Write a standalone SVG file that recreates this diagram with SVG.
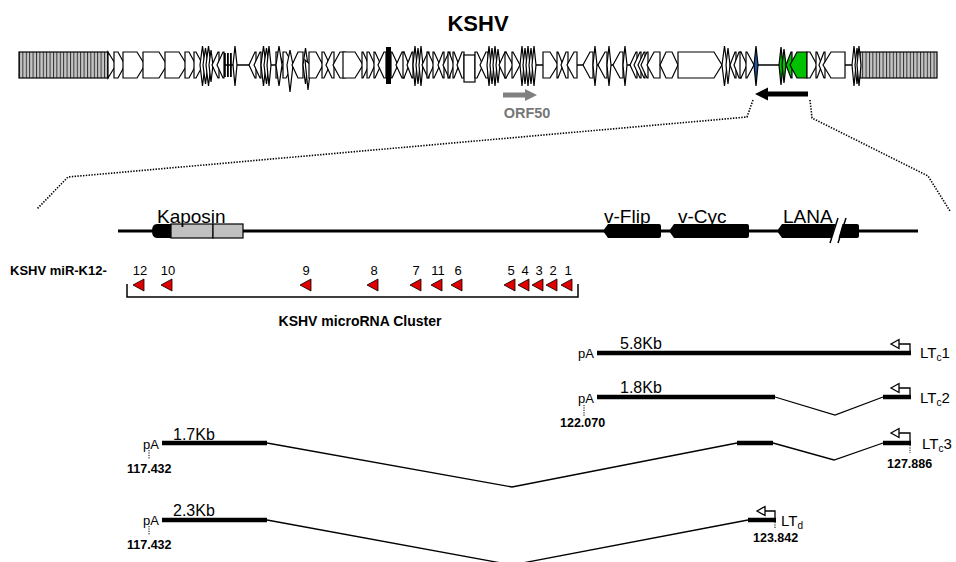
<svg xmlns="http://www.w3.org/2000/svg" width="956" height="562" viewBox="0 0 956 562">
<style>
text{font-family:"Liberation Sans",Arial,sans-serif;fill:#000}
.g{fill:#fff;stroke:#000;stroke-width:1.2;stroke-linejoin:miter}
.hb{fill:url(#hatch);stroke:#000;stroke-width:1.2}
.dot{fill:none;stroke:#000;stroke-width:1.6;stroke-dasharray:1.4 1.4}
.thick{stroke:#000;stroke-width:4.5;fill:none}
.thin{stroke:#000;stroke-width:1.3;fill:none}
.tick{stroke:#000;stroke-width:1;stroke-dasharray:1.2 1.2}
.mir{fill:#e00000;stroke:#000;stroke-width:0.8}
.prom{fill:#fff;stroke:#000;stroke-width:1.3}
.pa{font-size:13px}
.kb{font-size:16px}
.coord{font-size:12.5px;font-weight:bold}
.lt{font-size:15px}
.num{font-size:13px}
.gene{font-size:19px}
</style>
<defs>
<pattern id="hatch" patternUnits="userSpaceOnUse" x="19" y="0" width="3.4" height="10">
<rect width="3.4" height="10" fill="#c4c4c4"/>
<line x1="0.5" y1="0" x2="0.5" y2="10" stroke="#222" stroke-width="0.9"/>
</pattern>
</defs>
<rect width="956" height="562" fill="#fff"/>

<g id="title"><text x="478" y="31" text-anchor="middle" font-size="22" font-weight="bold">KSHV</text></g>

<g id="genome">
<line x1="108" y1="65" x2="860" y2="65" stroke="#000" stroke-width="1.6"/>
<rect class="hb" x="19" y="52" width="89" height="26"/>
<rect class="hb" x="860" y="52" width="77" height="26"/>
<polygon class="g" points="108,52 116,65 108,78"/>
<polygon class="g" points="114,52 118,52 125,65 118,78 114,78"/>
<polygon class="g" points="123,52 137,52 145,65 137,78 123,78"/>
<polygon class="g" points="143,52 159,52 167,65 159,78 143,78"/>
<polygon class="g" points="165,52 179,52 187,65 179,78 165,78"/>
<polygon class="g" points="185,52 189,52 196,65 189,78 185,78"/>
<polygon class="g" points="194,52 196,52 203,65 196,78 194,78"/>
<polygon class="g" points="200,65 202.5,46 205,65 202.5,86"/>
<polygon class="g" points="203,65 205.5,48 208,65 205.5,84"/>
<polygon class="g" points="206,65 208.5,46 211,65 208.5,86"/>
<polygon class="g" points="209,65 211,50 213,65 211,82"/>
<polygon class="g" points="219,52 218,52 212,65 218,78 219,78"/>
<polygon class="g" points="224,52 223,52 217,65 223,78 224,78"/>
<rect x="224" y="53" width="1.8" height="24"/>
<rect x="227" y="53" width="1.8" height="24"/>
<rect x="230" y="53" width="1.8" height="24"/>
<polygon class="g" points="233,65 235,46 237,65 235,86"/>
<polygon class="g" points="256,52 255,52 249,65 255,78 256,78"/>
<polygon class="g" points="261,52 260,52 254,65 260,78 261,78"/>
<polygon class="g" points="261,65 263.5,46 266,65 263.5,86"/>
<polygon class="g" points="264,65 266.5,48 269,65 266.5,84"/>
<polygon class="g" points="267,65 269,46 271,65 269,86"/>
<polygon class="g" points="276,52 278,52 284,65 278,78 276,78"/>
<polygon class="g" points="276,65 279,46 282,65 279,86"/>
<polygon class="g" points="283,52 286,52 293,65 286,78 283,78"/>
<polygon class="g" points="287,65 290,50 293,65 290,92"/>
<polygon class="g" points="303,52 298,52 292,65 298,78 303,78"/>
<polygon class="g" points="303,65 305.5,48 308,65 305.5,84"/>
<polygon class="g" points="305,60 308,90 311,65"/>
<polygon class="g" points="309,52 316,52 323,65 316,78 309,78"/>
<polygon class="g" points="322,52 324,52 330,65 324,78 322,78"/>
<polygon class="g" points="334,52 332,52 326,65 332,78 334,78"/>
<polygon class="g" points="345,52 340,52 333,65 340,78 345,78"/>
<polygon class="g" points="343,52 355,52 363,65 355,78 343,78"/>
<polygon class="g" points="362,52 363,52 369,65 363,78 362,78"/>
<polygon class="g" points="367,52 369,52 375,65 369,78 367,78"/>
<polygon class="g" points="374,52 375,52 381,65 375,78 374,78"/>
<polygon class="g" points="386,52 384,52 378,65 384,78 386,78"/>
<rect x="386" y="47" width="5" height="37"/>
<polygon class="g" points="391,52 392,52 398,65 392,78 391,78"/>
<polygon class="g" points="404,52 402,52 396,65 402,78 404,78"/>
<polygon class="g" points="403,52 404,52 409,65 404,78 403,78"/>
<polygon class="g" points="413,52 412,52 407,65 412,78 413,78"/>
<polygon class="g" points="413,65 415,46 417,65 415,86"/>
<polygon class="g" points="416,65 418,48 420,65 418,84"/>
<polygon class="g" points="419,65 421,46 423,65 421,86"/>
<polygon class="g" points="429,52 428,52 422,65 428,78 429,78"/>
<polygon class="g" points="427,52 428,52 434,65 428,78 427,78"/>
<polygon class="g" points="433,52 434,52 440,65 434,78 433,78"/>
<polygon class="g" points="444,52 443,52 438,65 443,78 444,78"/>
<polygon class="g" points="450,52 449,52 443,65 449,78 450,78"/>
<polygon class="g" points="448,52 449,52 454,65 449,78 448,78"/>
<polygon class="g" points="453,52 454,52 459,65 454,78 453,78"/>
<polygon class="g" points="464,52 462,52 457,65 462,78 464,78"/>
<rect class="g" x="464" y="55" width="11" height="27"/>
<polygon class="g" points="475,52 477,52 483,65 477,78 475,78"/>
<polygon class="g" points="488,52 486,52 480,65 486,78 488,78"/>
<polygon class="g" points="487,65 489,46 491,65 489,86"/>
<polygon class="g" points="490,65 492,48 494,65 492,84"/>
<polygon class="g" points="493,65 495,46 497,65 495,86"/>
<polygon class="g" points="496,65 498,49 500,65 498,83"/>
<polygon class="g" points="506,52 505,52 499,65 505,78 506,78"/>
<polygon class="g" points="505,52 506,52 513,65 506,78 505,78"/>
<polygon class="g" points="512,52 513,52 520,65 513,78 512,78"/>
<polygon class="g" points="520,65 522,46 524,65 522,86"/>
<polygon class="g" points="523,65 525,48 527,65 525,84"/>
<polygon class="g" points="526,65 528,46 530,65 528,86"/>
<polygon class="g" points="529,65 531,48 533,65 531,84"/>
<polygon class="g" points="532,65 534,46 536,65 534,86"/>
<polygon class="g" points="543,52 550,52 558,65 550,78 543,78"/>
<polygon class="g" points="557,52 558,52 563,65 558,78 557,78"/>
<polygon class="g" points="568,52 566,52 561,65 566,78 568,78"/>
<polygon class="g" points="577,52 574,52 567,65 574,78 577,78"/>
<polygon class="g" points="593,52 590,52 583,65 590,78 593,78"/>
<polygon class="g" points="593,65 595,46 597,65 595,86"/>
<polygon class="g" points="607,52 605,52 598,65 605,78 607,78"/>
<polygon class="g" points="607,65 609,46 611,65 609,86"/>
<polygon class="g" points="623,52 620,52 613,65 620,78 623,78"/>
<polygon class="g" points="623,65 625,46 627,65 625,86"/>
<polygon class="g" points="637,52 636,52 630,65 636,78 637,78"/>
<polygon class="g" points="641,52 640,52 634,65 640,78 641,78"/>
<polygon class="g" points="645,52 644,52 638,65 644,78 645,78"/>
<polygon class="g" points="648,52 647,52 641,65 647,78 648,78"/>
<polygon class="g" points="660,52 654,52 647,65 654,78 660,78"/>
<polygon class="g" points="660,65 666,52 672,52 678,65 672,78 666,78"/>
<polygon class="g" points="678,52 714,52 722,65 714,78 678,78"/>
<polygon class="g" points="722,65 724.5,46 727,65 724.5,86"/>
<polygon class="g" points="726,65 728,48 730,65 728,84"/>
<polygon class="g" points="736,52 735,52 730,65 735,78 736,78"/>
<polygon class="g" points="741,52 739,52 734,65 739,78 741,78"/>
<polygon class="g" points="740,52 741,52 747,65 741,78 740,78"/>
<polygon class="g" points="746,52 747,52 754,65 747,78 746,78"/>
<polygon points="754,65 756,46 758,65 756,86" fill="#1e5aa8" stroke="#000" stroke-width="1.2"/>
<polygon points="779,65 781,47 783,65 781,85" fill="#00c000" stroke="#000" stroke-width="1.2"/>
<polygon points="782,65 784,49 786,65 784,83" fill="#00c000" stroke="#000" stroke-width="1.2"/>
<polygon points="792,52 791,52 786,65 791,78 792,78" fill="#00c000" stroke="#000" stroke-width="1.2"/>
<polygon points="807,52 797,52 790,65 797,78 807,78" fill="#00c000" stroke="#000" stroke-width="1.2"/>
<polygon class="g" points="807,52 810,52 817,65 810,78 807,78"/>
<polygon class="g" points="816,52 817,52 822,65 817,78 816,78"/>
<polygon class="g" points="825,52 824,52 819,65 824,78 825,78"/>
<polygon class="g" points="845,52 831,52 823,65 831,78 845,78"/>
<polygon class="g" points="852,65 854,46 856,65 854,86"/>
<polygon class="g" points="855,65 857,48 859,65 857,84"/>
<polygon class="g" points="857,65 859,46 861,65 859,86"/>
</g>

<g id="orf50">
<polygon points="503,92.5 525,92.5 525,89 537,95 525,101 525,97.5 503,97.5" fill="#808080"/>
<text x="527" y="118" text-anchor="middle" font-size="14.5" font-weight="bold" style="fill:#777">ORF50</text>
</g>

<g id="lana-arrow">
<polygon points="808,91.5 768,91.5 768,87.5 755,94 768,100.5 768,96.5 808,96.5" fill="#000"/>
</g>

<g id="connectors">
<polyline class="dot" points="753,100 747,117 68,177 37,209"/>
<polyline class="dot" points="810,100 812,118 928,176 950,211"/>
</g>

<g id="genemap">
<line x1="118" y1="231" x2="918" y2="231" stroke="#000" stroke-width="3"/>
<path d="M171,224 H157 Q152,224 152,231 Q152,238 157,238 H171 Z" fill="#000"/>
<rect x="171" y="224" width="42" height="14" fill="#c0c0c0" stroke="#000" stroke-width="1.2"/>
<rect x="213" y="224" width="30" height="14" fill="#c0c0c0" stroke="#000" stroke-width="1.2"/>
<text class="gene" x="157" y="223">Kaposin</text>
<path d="M603,231 L608,224 H659 Q661,224 661,226 V236 Q661,238 659,238 H608 Z" fill="#000"/>
<path d="M669,231 L674,224 H747 Q749,224 749,226 V236 Q749,238 747,238 H674 Z" fill="#000"/>
<path d="M777,231 L782,224 H857 Q859,224 859,226 V236 Q859,238 857,238 H782 Z" fill="#000"/>
<polygon points="836,222 843,222 838,240 831,240" fill="#fff"/>
<line x1="830" y1="243" x2="838" y2="218" stroke="#000" stroke-width="1.5"/>
<line x1="838" y1="243" x2="846" y2="218" stroke="#000" stroke-width="1.5"/>
<text class="gene" x="604" y="223">v-Flip</text>
<text class="gene" x="678" y="223">v-Cyc</text>
<text class="gene" x="783" y="223">LANA</text>
</g>

<g id="mirna">
<text x="10" y="275" font-size="13" font-weight="bold">KSHV miR-K12-</text>
<g class="num" text-anchor="middle">
<text x="140" y="275">12</text>
<text x="168" y="275">10</text>
<text x="306" y="275">9</text>
<text x="374" y="275">8</text>
<text x="416" y="275">7</text>
<text x="438" y="275">11</text>
<text x="458" y="275">6</text>
<text x="511" y="275">5</text>
<text x="525" y="275">4</text>
<text x="539" y="275">3</text>
<text x="553" y="275">2</text>
<text x="568" y="275">1</text>
</g>
<polygon class="mir" points="133,285 144,279 144,291"/>
<polygon class="mir" points="161,285 172,279 172,291"/>
<polygon class="mir" points="300,285 311,279 311,291"/>
<polygon class="mir" points="367,285 378,279 378,291"/>
<polygon class="mir" points="410,285 421,279 421,291"/>
<polygon class="mir" points="431,285 442,279 442,291"/>
<polygon class="mir" points="451,285 462,279 462,291"/>
<polygon class="mir" points="504,285 515,279 515,291"/>
<polygon class="mir" points="518,285 529,279 529,291"/>
<polygon class="mir" points="532,285 543,279 543,291"/>
<polygon class="mir" points="546,285 557,279 557,291"/>
<polygon class="mir" points="561,285 572,279 572,291"/>
<path d="M127,284 V297 H578 V284" fill="none" stroke="#000" stroke-width="1.5"/>
<text x="360" y="326" text-anchor="middle" font-size="14" font-weight="bold">KSHV microRNA Cluster</text>
</g>

<g id="ltc1">
<text class="pa" x="578" y="358">pA</text>
<line class="thick" x1="597" y1="353" x2="911" y2="353"/>
<text class="kb" x="620" y="349">5.8Kb</text>
<polyline class="thin" points="899,344 910,344 910,353"/>
<polygon class="prom" points="891,344 899,339.5 899,348.5"/>
<text class="lt" x="920" y="358">LT<tspan font-size="10" dy="3">c</tspan><tspan dy="-3">1</tspan></text>
</g>

<g id="ltc2">
<text class="pa" x="578" y="403">pA</text>
<line class="thick" x1="597" y1="397" x2="775" y2="397"/>
<polyline class="thin" points="775,397 835,415 883,397"/>
<line class="thick" x1="883" y1="397" x2="911" y2="397"/>
<text class="kb" x="620" y="393">1.8Kb</text>
<polyline class="thin" points="899,388 910,388 910,397"/>
<polygon class="prom" points="891,388 899,383.5 899,392.5"/>
<text class="lt" x="920" y="403">LT<tspan font-size="10" dy="3">c</tspan><tspan dy="-3">2</tspan></text>
<line class="tick" x1="584" y1="405" x2="584" y2="416"/>
<text class="coord" x="560" y="427">122.070</text>
</g>

<g id="ltc3">
<text class="pa" x="143" y="449">pA</text>
<line class="thick" x1="162" y1="443" x2="267" y2="443"/>
<text class="kb" x="173" y="440">1.7Kb</text>
<polyline class="thin" points="267,443 512,487 737,443"/>
<line class="thick" x1="737" y1="443" x2="773" y2="443"/>
<polyline class="thin" points="773,443 834,460 883,443"/>
<line class="thick" x1="883" y1="443" x2="911" y2="443"/>
<polyline class="thin" points="899,433 910,433 910,443"/>
<polygon class="prom" points="891,433 899,428.5 899,437.5"/>
<text class="lt" x="922" y="449">LT<tspan font-size="10" dy="3">c</tspan><tspan dy="-3">3</tspan></text>
<line class="tick" x1="910" y1="445" x2="910" y2="453"/>
<text class="coord" x="887" y="468">127.886</text>
<line class="tick" x1="149" y1="450" x2="149" y2="459"/>
<text class="coord" x="127" y="473">117.432</text>
</g>

<g id="ltd">
<text class="pa" x="143" y="525">pA</text>
<line class="thick" x1="162" y1="520" x2="267" y2="520"/>
<text class="kb" x="173" y="516">2.3Kb</text>
<polyline class="thin" points="267,520 512,565 748,520"/>
<line class="thick" x1="748" y1="520" x2="776" y2="520"/>
<polyline class="thin" points="765,511 775,511 775,520"/>
<polygon class="prom" points="757,511 765,506.5 765,515.5"/>
<text class="lt" x="781" y="526">LT<tspan font-size="10" dy="3">d</tspan></text>
<line class="tick" x1="775" y1="522" x2="775" y2="529"/>
<text class="coord" x="753" y="542">123.842</text>
<line class="tick" x1="149" y1="526" x2="149" y2="535"/>
<text class="coord" x="127" y="549">117.432</text>
</g>
</svg>
